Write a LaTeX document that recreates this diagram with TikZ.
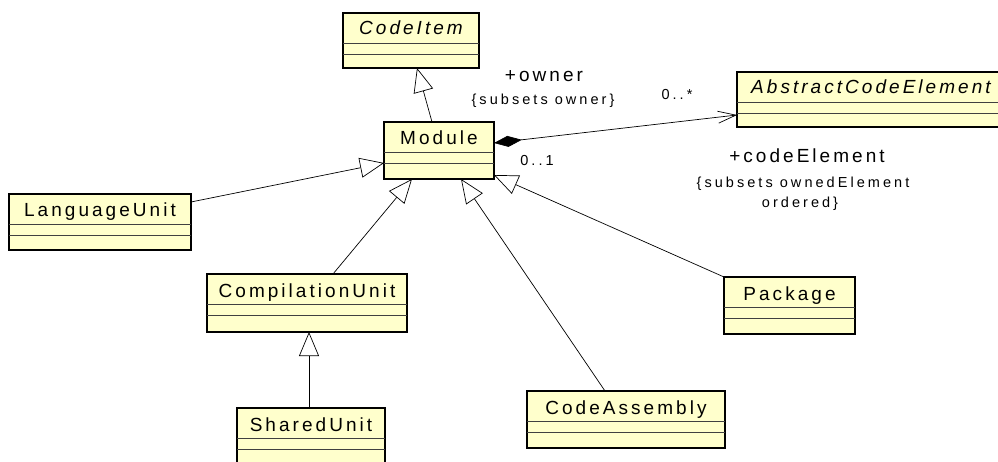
\documentclass[tikz,border=0pt]{standalone}
\usepackage{fontspec}
\setmainfont{Liberation Sans}[LetterSpace=16]
\usetikzlibrary{arrows.meta}
\definecolor{classfill}{RGB}{255,255,204}
\tikzset{
  classbox/.style={draw=black, line width=1.5pt, fill=classfill, inner sep=0pt, outer sep=0pt, anchor=north west},
  comp/.style={draw=black!75, line width=0.9pt},
  ctitle/.style={anchor=base, inner sep=0pt, font=\fontsize{19}{21}\selectfont},
  ictitle/.style={ctitle, font=\fontsize{19}{21}\selectfont\itshape},
  biglabel/.style={anchor=base, inner sep=0pt, font=\fontsize{19}{21}\selectfont},
  smalllabel/.style={anchor=base, inner sep=0pt, font=\fontsize{14.5}{16}\selectfont\addfontfeature{LetterSpace=21}},
  gen/.style={draw=black, line width=0.7pt, -{Triangle[open, length=24pt, width=20pt, fill=white]}},
  compo/.style={draw=black, line width=0.7pt, {Diamond[length=28pt, width=11pt, fill=black]}-{Straight Barb[length=18pt, width=12pt]}},
}
\newcommand{\classcompartments}[1]{%
  \draw[comp] ([yshift=-30pt]#1.north west) -- ([yshift=-30pt]#1.north east);
  \draw[comp] ([yshift=-41pt]#1.north west) -- ([yshift=-41pt]#1.north east);
}
\begin{document}
\begin{tikzpicture}[x=1pt, y=-1pt]
\useasboundingbox (0,0) rectangle (998,462);

% classes
\node[classbox, minimum width=136pt, minimum height=55pt] (ci) at (343,13) {};
\classcompartments{ci}
\node[ictitle] (ci-t) at ([yshift=-22pt]ci.north) {CodeItem};

\node[classbox, minimum width=110pt, minimum height=57pt] (mod) at (384,122) {};
\classcompartments{mod}
\node[ctitle] (mod-t) at ([yshift=-23pt]mod.north) {Module};

\node[classbox, minimum width=300pt, minimum height=55pt] (ace) at (737,72) {};
\classcompartments{ace}
\node[ictitle, anchor=base west] (ace-t) at ([xshift=14pt, yshift=-22pt]ace.north west) {AbstractCodeElement};

\node[classbox, minimum width=182pt, minimum height=56pt] (lu) at (9,194) {};
\classcompartments{lu}
\node[ctitle] (lu-t) at ([yshift=-23pt]lu.north) {LanguageUnit};

\node[classbox, minimum width=200pt, minimum height=58pt] (cu) at (207,274) {};
\classcompartments{cu}
\node[ctitle] (cu-t) at ([yshift=-23pt]cu.north) {CompilationUnit};

\node[classbox, minimum width=131pt, minimum height=57pt] (pk) at (724,277) {};
\classcompartments{pk}
\node[ctitle] (pk-t) at ([yshift=-23pt]pk.north) {Package};

\node[classbox, minimum width=198pt, minimum height=57pt] (ca) at (527,391) {};
\classcompartments{ca}
\node[ctitle] (ca-t) at ([yshift=-23pt]ca.north) {CodeAssembly};

\node[classbox, minimum width=148pt, minimum height=62pt] (su) at (237,408) {};
\classcompartments{su}
\node[ctitle] (su-t) at ([yshift=-23pt]su.north) {SharedUnit};

% generalizations
\draw[gen] ([xshift=48pt]mod.north west) -- ([xshift=74pt]ci.south west);
\draw[gen] ([yshift=-8pt]lu.north east) -- ([yshift=-41pt]mod.north west);
\draw[gen] ([xshift=126pt]cu.north west) -- ([xshift=28pt]mod.south west);
\draw[gen] ([xshift=72pt]su.north west) -- ([xshift=102pt]cu.south west);
\draw[gen] ([xshift=78pt]ca.north west) -- ([xshift=77pt]mod.south west);
\draw[gen] (pk.north west) -- ([yshift=4pt]mod.south east);

% composition
\draw[compo] ([yshift=-21pt]mod.north east) -- ([yshift=-43pt]ace.north west);

% association labels
\node[biglabel] (own) at (544,82) {+owner};
\node[smalllabel] (own-c) at (543,105) {\{subsets owner\}};
\node[smalllabel] (m01) at (537,166) {0..1};
\node[smalllabel] (m0s) at (677,100) {0..*};
\node[biglabel] (ce) at (807,163) {+codeElement};
\node[smalllabel] (ce-c1) at (803,188) {\{subsets ownedElement};
\node[smalllabel] (ce-c2) at (800,208) {ordered\}};
\end{tikzpicture}
\end{document}
